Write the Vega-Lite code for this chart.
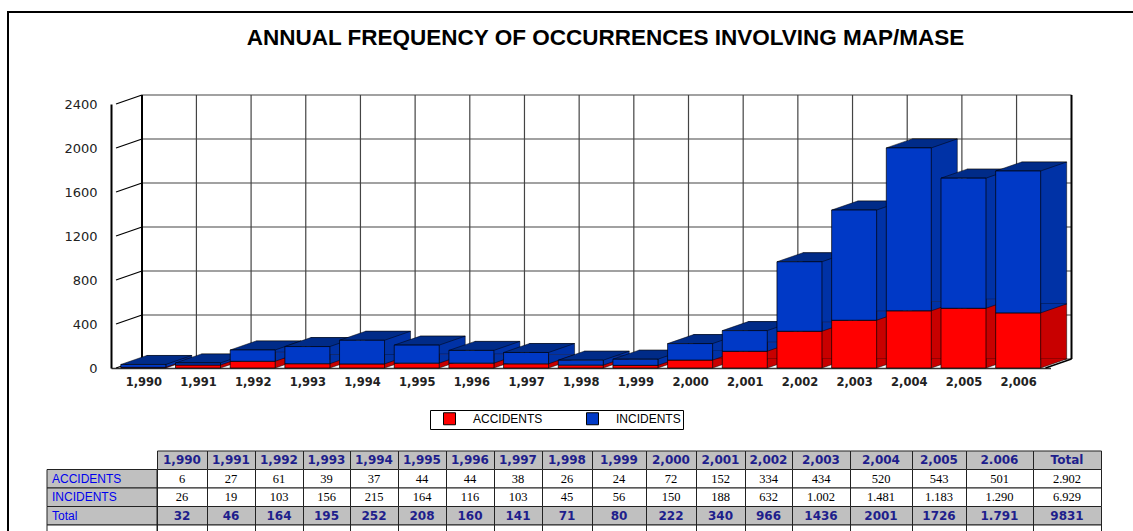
{
  "$schema": "https://vega.github.io/schema/vega-lite/v6.json",
  "width": 1125,
  "height": 519,
  "autosize": {"type": "none"},
  "padding": {"left": 8, "top": 12, "right": 0, "bottom": 0},
  "background": "white",
  "title": {
    "text": "ANNUAL FREQUENCY OF OCCURRENCES INVOLVING MAP/MASE",
    "anchor": "middle", "frame": "group", "offset": -55, "dx": 35,
    "font": "Liberation Sans", "fontSize": 22.5, "fontWeight": "bold", "color": "black", "baseline": "alphabetic"
  },
  "datasets": {
    "bars": [
      {"year": 1990, "type": "ACCIDENTS", "value": 6}, {"year": 1990, "type": "INCIDENTS", "value": 26},
      {"year": 1991, "type": "ACCIDENTS", "value": 27}, {"year": 1991, "type": "INCIDENTS", "value": 19},
      {"year": 1992, "type": "ACCIDENTS", "value": 61}, {"year": 1992, "type": "INCIDENTS", "value": 103},
      {"year": 1993, "type": "ACCIDENTS", "value": 39}, {"year": 1993, "type": "INCIDENTS", "value": 156},
      {"year": 1994, "type": "ACCIDENTS", "value": 37}, {"year": 1994, "type": "INCIDENTS", "value": 215},
      {"year": 1995, "type": "ACCIDENTS", "value": 44}, {"year": 1995, "type": "INCIDENTS", "value": 164},
      {"year": 1996, "type": "ACCIDENTS", "value": 44}, {"year": 1996, "type": "INCIDENTS", "value": 116},
      {"year": 1997, "type": "ACCIDENTS", "value": 38}, {"year": 1997, "type": "INCIDENTS", "value": 103},
      {"year": 1998, "type": "ACCIDENTS", "value": 26}, {"year": 1998, "type": "INCIDENTS", "value": 45},
      {"year": 1999, "type": "ACCIDENTS", "value": 24}, {"year": 1999, "type": "INCIDENTS", "value": 56},
      {"year": 2000, "type": "ACCIDENTS", "value": 72}, {"year": 2000, "type": "INCIDENTS", "value": 150},
      {"year": 2001, "type": "ACCIDENTS", "value": 152}, {"year": 2001, "type": "INCIDENTS", "value": 188},
      {"year": 2002, "type": "ACCIDENTS", "value": 334}, {"year": 2002, "type": "INCIDENTS", "value": 632},
      {"year": 2003, "type": "ACCIDENTS", "value": 434}, {"year": 2003, "type": "INCIDENTS", "value": 1002},
      {"year": 2004, "type": "ACCIDENTS", "value": 520}, {"year": 2004, "type": "INCIDENTS", "value": 1481},
      {"year": 2005, "type": "ACCIDENTS", "value": 543}, {"year": 2005, "type": "INCIDENTS", "value": 1183},
      {"year": 2006, "type": "ACCIDENTS", "value": 501}, {"year": 2006, "type": "INCIDENTS", "value": 1290}
    ],
    "ticks": [{"v": 0}, {"v": 400}, {"v": 800}, {"v": 1200}, {"v": 1600}, {"v": 2000}, {"v": 2400}],
    "table": [
      {"col": 1990, "label": "1,990", "ACCIDENTS": "6", "INCIDENTS": "26", "Total": "32"},
      {"col": 1991, "label": "1,991", "ACCIDENTS": "27", "INCIDENTS": "19", "Total": "46"},
      {"col": 1992, "label": "1,992", "ACCIDENTS": "61", "INCIDENTS": "103", "Total": "164"},
      {"col": 1993, "label": "1,993", "ACCIDENTS": "39", "INCIDENTS": "156", "Total": "195"},
      {"col": 1994, "label": "1,994", "ACCIDENTS": "37", "INCIDENTS": "215", "Total": "252"},
      {"col": 1995, "label": "1,995", "ACCIDENTS": "44", "INCIDENTS": "164", "Total": "208"},
      {"col": 1996, "label": "1,996", "ACCIDENTS": "44", "INCIDENTS": "116", "Total": "160"},
      {"col": 1997, "label": "1,997", "ACCIDENTS": "38", "INCIDENTS": "103", "Total": "141"},
      {"col": 1998, "label": "1,998", "ACCIDENTS": "26", "INCIDENTS": "45", "Total": "71"},
      {"col": 1999, "label": "1,999", "ACCIDENTS": "24", "INCIDENTS": "56", "Total": "80"},
      {"col": 2000, "label": "2,000", "ACCIDENTS": "72", "INCIDENTS": "150", "Total": "222"},
      {"col": 2001, "label": "2,001", "ACCIDENTS": "152", "INCIDENTS": "188", "Total": "340"},
      {"col": 2002, "label": "2,002", "ACCIDENTS": "334", "INCIDENTS": "632", "Total": "966"},
      {"col": 2003, "label": "2,003", "ACCIDENTS": "434", "INCIDENTS": "1.002", "Total": "1436"},
      {"col": 2004, "label": "2,004", "ACCIDENTS": "520", "INCIDENTS": "1.481", "Total": "2001"},
      {"col": 2005, "label": "2,005", "ACCIDENTS": "543", "INCIDENTS": "1.183", "Total": "1726"},
      {"col": 2006, "label": "2.006", "ACCIDENTS": "501", "INCIDENTS": "1.290", "Total": "1.791"},
      {"col": 2007, "label": "Total", "ACCIDENTS": "2.902", "INCIDENTS": "6.929", "Total": "9831"}
    ]
  },
  "layer": [
    {
      "layer": [
        {
          "data": {"name": "ticks"},
          "mark": {"type": "rule", "color": "#444444", "strokeWidth": 1.2, "xOffset": 26, "x2Offset": 26, "yOffset": -9},
          "encoding": {
            "x": {"datum": 1989.5, "type": "quantitative", "scale": {"domain": [1989.5, 2006.5], "range": [103, 1042.5], "zero": false, "nice": false}},
            "x2": {"datum": 2006.5},
            "y": {"field": "v", "type": "quantitative", "title": null, "scale": {"domain": [0, 2400], "range": [356, 92], "nice": false}}
          }
        },
        {
          "data": {"name": "ticks"},
          "mark": {"type": "rule", "color": "black", "strokeWidth": 1.3, "x2Offset": 26, "y2Offset": -9},
          "encoding": {
            "x": {"datum": 1989.5, "type": "quantitative", "scale": {"domain": [1989.5, 2006.5], "range": [103, 1042.5], "zero": false, "nice": false}},
            "x2": {"datum": 1989.5},
            "y": {"field": "v", "type": "quantitative", "title": null, "scale": {"domain": [0, 2400], "range": [356, 92], "nice": false}},
            "y2": {"field": "v"}
          }
        },
        {
          "data": {"name": "bars"},
          "transform": [{"filter": "datum.type === 'ACCIDENTS' && datum.year > 1990"}],
          "mark": {"type": "rule", "color": "#444444", "strokeWidth": 1.2, "xOffset": -1.6, "yOffset": -9, "y2Offset": -9},
          "encoding": {
            "x": {"field": "year", "type": "quantitative", "title": null, "scale": {"domain": [1989.5, 2006.5], "range": [103, 1042.5], "zero": false, "nice": false}},
            "y": {"datum": 0, "type": "quantitative", "scale": {"domain": [0, 2400], "range": [356, 92], "nice": false}},
            "y2": {"datum": 2400}
          }
        },
        {
          "data": {"name": "ticks"},
          "transform": [{"filter": "datum.v === 0"}],
          "mark": {"type": "rule", "color": "black", "strokeWidth": 2, "xOffset": 26, "yOffset": -9, "y2Offset": -9},
          "encoding": {
            "x": {"datum": 1989.5, "type": "quantitative", "scale": {"domain": [1989.5, 2006.5], "range": [103, 1042.5], "zero": false, "nice": false}},
            "y": {"datum": 0, "type": "quantitative", "scale": {"domain": [0, 2400], "range": [356, 92], "nice": false}},
            "y2": {"datum": 2400}
          }
        },
        {
          "data": {"name": "ticks"},
          "transform": [{"filter": "datum.v === 0"}],
          "mark": {"type": "rule", "color": "black", "strokeWidth": 2, "xOffset": 26, "yOffset": -9, "y2Offset": -9},
          "encoding": {
            "x": {"datum": 2006.5, "type": "quantitative", "scale": {"domain": [1989.5, 2006.5], "range": [103, 1042.5], "zero": false, "nice": false}},
            "y": {"datum": 0, "type": "quantitative", "scale": {"domain": [0, 2400], "range": [356, 92], "nice": false}},
            "y2": {"datum": 2400}
          }
        },
        {
          "data": {"name": "ticks"},
          "transform": [{"filter": "datum.v === 0"}],
          "mark": {"type": "rule", "color": "black", "strokeWidth": 1.5, "x2Offset": 26, "y2Offset": -9},
          "encoding": {
            "x": {"datum": 2006.5, "type": "quantitative", "scale": {"domain": [1989.5, 2006.5], "range": [103, 1042.5], "zero": false, "nice": false}},
            "x2": {"datum": 2006.5},
            "y": {"datum": 0, "type": "quantitative", "scale": {"domain": [0, 2400], "range": [356, 92], "nice": false}},
            "y2": {"datum": 0}
          }
        },
        {
          "data": {"name": "bars"},
          "transform": [{"stack": "value", "groupby": ["year"], "sort": [{"field": "type", "order": "ascending"}], "as": ["v0", "v1"]}],
          "mark": {"type": "bar", "size": 45, "xOffset": 26, "yOffset": -9, "y2Offset": -9, "stroke": "black", "strokeWidth": 0.5, "opacity": 1},
          "encoding": {
            "x": {"field": "year", "type": "quantitative", "title": null, "scale": {"domain": [1989.5, 2006.5], "range": [103, 1042.5], "zero": false, "nice": false}},
            "y": {"field": "v1", "type": "quantitative", "title": null, "scale": {"domain": [0, 2400], "range": [356, 92], "nice": false}},
            "y2": {"field": "v0"},
            "fill": {"condition": {"test": "datum.type === 'ACCIDENTS'", "value": "#c80000"}, "value": "#0032a6"}
          }
        },
        {
          "data": {"name": "bars"},
          "transform": [{"stack": "value", "groupby": ["year"], "sort": [{"field": "type", "order": "ascending"}], "as": ["v0", "v1"]}],
          "mark": {"type": "point", "shape": "M48.5,-9L22.5,0L22.5,-9", "size": 4, "filled": true, "stroke": "black", "strokeWidth": 0.5, "opacity": 1},
          "encoding": {
            "x": {"field": "year", "type": "quantitative", "title": null, "scale": {"domain": [1989.5, 2006.5], "range": [103, 1042.5], "zero": false, "nice": false}},
            "y": {"field": "v0", "type": "quantitative", "title": null, "scale": {"domain": [0, 2400], "range": [356, 92], "nice": false}},
            "fill": {"condition": {"test": "datum.type === 'ACCIDENTS'", "value": "#c80000"}, "value": "#0032a6"}
          }
        },
        {
          "data": {"name": "bars"},
          "transform": [
            {"stack": "value", "groupby": ["year"], "sort": [{"field": "type", "order": "ascending"}], "as": ["v0", "v1"]},
            {"filter": "datum.type === 'INCIDENTS'"}
          ],
          "mark": {"type": "point", "shape": "M-22.5,0L22.5,0L48.5,-9L3.5,-9Z", "size": 4, "filled": true, "fill": "#002b88", "stroke": "black", "strokeWidth": 0.5, "opacity": 1},
          "encoding": {
            "x": {"field": "year", "type": "quantitative", "title": null, "scale": {"domain": [1989.5, 2006.5], "range": [103, 1042.5], "zero": false, "nice": false}},
            "y": {"field": "v1", "type": "quantitative", "title": null, "scale": {"domain": [0, 2400], "range": [356, 92], "nice": false}}
          }
        },
        {
          "data": {"name": "bars"},
          "transform": [{"stack": "value", "groupby": ["year"], "sort": [{"field": "type", "order": "ascending"}], "as": ["v0", "v1"]}],
          "mark": {"type": "bar", "size": 45, "stroke": "black", "strokeWidth": 0.7, "opacity": 1},
          "encoding": {
            "x": {
              "field": "year", "type": "quantitative", "title": null,
              "scale": {"domain": [1989.5, 2006.5], "range": [103, 1042.5], "zero": false, "nice": false},
              "axis": {"orient": "bottom", "offset": -163, "values": [1990, 1991, 1992, 1993, 1994, 1995, 1996, 1997, 1998, 1999, 2000, 2001, 2002, 2003, 2004, 2005, 2006], "format": ",d", "labelFont": "DejaVu Sans", "labelFontSize": 11.5, "labelFontWeight": "bold", "labelColor": "#222222", "labelPadding": 8, "ticks": false, "domain": true, "domainColor": "#333333", "domainWidth": 1.5, "grid": false, "labelFlush": false, "labelOverlap": false, "title": null}
            },
            "y": {
              "field": "v1", "type": "quantitative", "title": null,
              "scale": {"domain": [0, 2400], "range": [356, 92], "nice": false},
              "axis": {"orient": "left", "offset": -103, "values": [0, 400, 800, 1200, 1600, 2000, 2400], "format": "d", "labelFont": "DejaVu Sans", "labelFontSize": 13, "labelColor": "#222222", "labelPadding": 14, "ticks": false, "domain": true, "domainColor": "black", "domainWidth": 2, "grid": false, "title": null}
            },
            "y2": {"field": "v0"},
            "color": {
              "field": "type", "type": "nominal",
              "scale": {"domain": ["ACCIDENTS", "INCIDENTS"], "range": ["#ff0000", "#0039c6"]},
              "legend": {"orient": "none", "legendX": 422, "legendY": 398, "direction": "horizontal", "title": null, "fillColor": "white", "strokeColor": "black", "padding": 2, "symbolType": "square", "symbolSize": 144, "symbolStrokeColor": "black", "symbolStrokeWidth": 1, "symbolOffset": 11, "labelOffset": 17, "labelFont": "Liberation Sans", "labelFontSize": 12, "labelColor": "black", "columnPadding": 32, "labelLimit": 300}
            }
          }
        }
      ]
    },
    {
      "layer": [
        {
          "data": {"name": "table"},
          "mark": {"type": "rect", "fill": "#c0c0c0", "stroke": "#222222", "strokeWidth": 1},
          "encoding": {
            "x": {"field": "col", "type": "quantitative", "bin": {"step": 1, "anchor": 1989.5, "extent": [1989.5, 2007.5], "nice": false}, "axis": null,
              "scale": {"domain": [1988.5, 1989.5, 1990.5, 1991.5, 1992.5, 1993.5, 1994.5, 1995.5, 1996.5, 1997.5, 1998.5, 1999.5, 2000.5, 2001.5, 2002.5, 2003.5, 2004.5, 2005.5, 2006.5, 2007.5], "range": [39, 149, 199, 247, 295, 342, 390, 438, 486, 534, 584, 638, 688, 737, 784, 842, 904, 958, 1025, 1093], "zero": false, "nice": false}},
            "y": {"datum": "hdr", "type": "nominal", "axis": null, "scale": {"domain": ["hdr", "ACCIDENTS", "INCIDENTS", "Total", "next"], "range": [439, 531.5], "paddingInner": 0, "paddingOuter": 0}}
          }
        },
        {
          "data": {"name": "table"},
          "transform": [{"fold": ["ACCIDENTS", "INCIDENTS", "Total"], "as": ["row", "text"]}],
          "mark": {"type": "rect", "stroke": "#222222", "strokeWidth": 1},
          "encoding": {
            "x": {"field": "col", "type": "quantitative", "bin": {"step": 1, "anchor": 1989.5, "extent": [1989.5, 2007.5], "nice": false}, "axis": null},
            "y": {"field": "row", "type": "nominal", "axis": null},
            "fill": {"condition": {"test": "datum.row === 'Total'", "value": "#c0c0c0"}, "value": "white"}
          }
        },
        {
          "data": {"name": "table"},
          "mark": {"type": "rect", "fill": "white", "stroke": "#222222", "strokeWidth": 1},
          "encoding": {
            "x": {"field": "col", "type": "quantitative", "bin": {"step": 1, "anchor": 1989.5, "extent": [1989.5, 2007.5], "nice": false}, "axis": null},
            "y": {"datum": "next", "type": "nominal", "axis": null}
          }
        },
        {
          "data": {"name": "table"},
          "transform": [
            {"fold": ["ACCIDENTS", "INCIDENTS", "Total"], "as": ["row", "text"]},
            {"aggregate": [{"op": "count", "as": "n"}], "groupby": ["row"]}
          ],
          "mark": {"type": "rect", "fill": "#c0c0c0", "stroke": "#222222", "strokeWidth": 1},
          "encoding": {
            "x": {"datum": 1988.5, "type": "quantitative", "axis": null},
            "x2": {"datum": 1989.5},
            "y": {"field": "row", "type": "nominal", "axis": null}
          }
        },
        {
          "data": {"name": "table"},
          "transform": [{"filter": "datum.col === 2007"}],
          "mark": {"type": "rect", "fill": "white", "stroke": "#222222", "strokeWidth": 1},
          "encoding": {
            "x": {"datum": 1988.5, "type": "quantitative", "axis": null},
            "x2": {"datum": 1989.5},
            "y": {"datum": "next", "type": "nominal", "axis": null}
          }
        },
        {
          "data": {"name": "table"},
          "mark": {"type": "text", "font": "DejaVu Sans", "fontSize": 12, "fontWeight": "bold", "color": "#1e1e8c", "baseline": "middle", "align": "center"},
          "encoding": {
            "x": {"field": "col", "type": "quantitative", "axis": null},
            "y": {"datum": "hdr", "type": "nominal", "axis": null},
            "text": {"field": "label"}
          }
        },
        {
          "data": {"name": "table"},
          "transform": [
            {"fold": ["ACCIDENTS", "INCIDENTS", "Total"], "as": ["row", "text"]},
            {"filter": "datum.row !== 'Total'"}
          ],
          "mark": {"type": "text", "font": "Liberation Serif", "fontSize": 12.5, "color": "black", "baseline": "middle", "align": "center"},
          "encoding": {
            "x": {"field": "col", "type": "quantitative", "axis": null},
            "y": {"field": "row", "type": "nominal", "axis": null},
            "text": {"field": "text"}
          }
        },
        {
          "data": {"name": "table"},
          "transform": [
            {"fold": ["ACCIDENTS", "INCIDENTS", "Total"], "as": ["row", "text"]},
            {"filter": "datum.row === 'Total'"}
          ],
          "mark": {"type": "text", "font": "DejaVu Sans", "fontSize": 12, "fontWeight": "bold", "color": "#1e1e8c", "baseline": "middle", "align": "center"},
          "encoding": {
            "x": {"field": "col", "type": "quantitative", "axis": null},
            "y": {"field": "row", "type": "nominal", "axis": null},
            "text": {"field": "text"}
          }
        },
        {
          "data": {"name": "table"},
          "transform": [
            {"fold": ["ACCIDENTS", "INCIDENTS", "Total"], "as": ["row", "text"]},
            {"aggregate": [{"op": "count", "as": "n"}], "groupby": ["row"]}
          ],
          "mark": {"type": "text", "font": "Liberation Sans", "fontSize": 12, "color": "#0000ee", "baseline": "middle", "align": "left", "dx": 5},
          "encoding": {
            "x": {"datum": 1988.5, "type": "quantitative", "axis": null},
            "y": {"field": "row", "type": "nominal", "axis": null},
            "text": {"field": "row"}
          }
        }
      ]
    }
  ],
  "resolve": {"scale": {"x": "independent", "y": "independent"}, "axis": {"x": "independent", "y": "independent"}},
  "config": {
    "view": {"stroke": "black", "strokeWidth": 2, "strokeDash": [1125, 1644, 520]},
    "font": "Liberation Sans",
    "axis": {"grid": false, "ticks": false}
  }
}
